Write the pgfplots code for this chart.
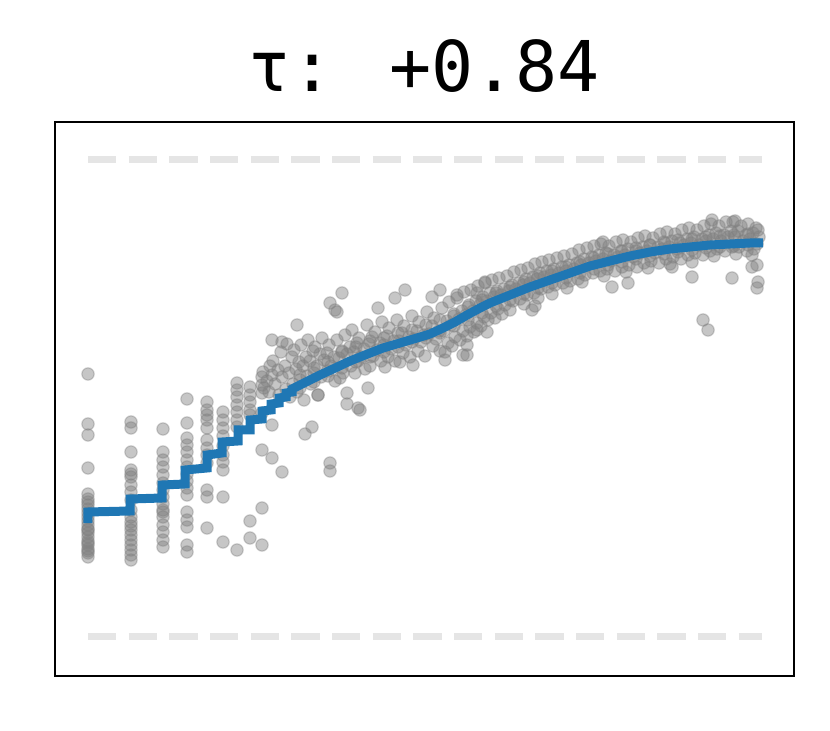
\documentclass[border=0pt]{standalone}
\usepackage{fontspec}
\usepackage{pgfplots}
\pgfplotsset{compat=1.18}
\newfontfamily\mono{DejaVu Sans Mono}
\definecolor{tabblue}{RGB}{31,119,180}
\definecolor{dashgray}{RGB}{229,229,229}
% coordinates in pixels (y grows downwards)
\begin{document}
\begin{tikzpicture}
\begin{axis}[
    scale only axis,
    width=221.7pt, height=166.2pt,
    xmin=55, xmax=794, ymin=122, ymax=676,
    y dir=reverse,
    ticks=none,
    clip marker paths=true,
    axis line style={line width=0.75pt},
    title={\mono τ: +0.84},
    title style={anchor=base, yshift=3pt, font=\fontsize{21}{25}\selectfont},
]
\coordinate (bl) at (axis cs:0,731);
\coordinate (tr) at (axis cs:830,0);
% reference lines
\addplot[dashgray, line width=2.1pt, dash pattern=on 8.5pt off 3.7pt] coordinates {(88,160) (762,160)};
\addplot[dashgray, line width=2.1pt, dash pattern=on 8.5pt off 3.7pt] coordinates {(88,636) (762,636)};
% scatter
\addplot[only marks, mark=*, mark size=1.85pt,
    mark options={draw=gray, fill=gray, line width=0.4pt, fill opacity=0.45, draw opacity=0.35}]
table[row sep=\\] {x y\\
88 374\\ 88 424\\ 88 435\\ 88 468\\ 88 494\\ 88 499\\ 88 505\\ 88 509\\ 88 513\\ 88 517\\ 88 521\\ 88 525\\ 88 529\\ 88 533\\ 88 537\\ 88 541\\ 88 545\\ 88 549\\ 88 553\\ 88 557\\ 88 551\\ 88 543\\ 88 530\\ 88 502\\
131 422\\ 131 428\\ 131 452\\ 131 470\\ 131 474\\ 131 477\\ 131 485\\ 131 492\\ 131 500\\ 131 510\\ 131 517\\ 131 522\\ 131 526\\ 131 530\\ 131 535\\ 131 540\\ 131 545\\ 131 550\\ 131 555\\ 131 560\\
163 429\\ 163 452\\ 163 460\\ 163 467\\ 163 475\\ 163 483\\ 163 490\\ 163 497\\ 163 504\\ 163 510\\ 163 517\\ 163 525\\ 163 532\\ 163 540\\ 163 547\\ 163 512\\
187 399\\ 187 423\\ 187 438\\ 187 445\\ 187 452\\ 187 460\\ 187 467\\ 187 474\\ 187 481\\ 187 488\\ 187 495\\ 187 512\\ 187 520\\ 187 527\\ 187 545\\ 187 552\\
207 402\\ 207 410\\ 207 415\\ 207 420\\ 207 428\\ 207 440\\ 207 448\\ 207 455\\ 207 463\\ 207 490\\ 207 497\\ 207 528\\
223 412\\ 223 420\\ 223 428\\ 223 436\\ 223 446\\ 223 455\\ 223 462\\ 223 470\\ 223 497\\ 223 542\\
237 383\\ 237 390\\ 237 397\\ 237 405\\ 237 412\\ 237 420\\ 237 427\\ 237 550\\
250 387\\ 250 395\\ 250 402\\ 250 410\\ 250 415\\ 250 521\\ 250 538\\
262 377\\ 262 385\\ 262 393\\ 262 413\\ 262 450\\ 262 508\\ 262 545\\
263 372\\ 267 381\\ 264 388\\
270 366\\ 272 375\\ 269 392\\
273 361\\ 278 370\\ 275 384\\ 279 395\\
281 352\\ 285 366\\ 282 377\\ 286 389\\
287 344\\ 292 357\\ 289 373\\ 293 384\\ 290 397\\
294 350\\ 299 362\\ 296 369\\ 300 380\\ 297 392\\
301 345\\ 306 357\\ 303 366\\ 307 376\\ 304 400\\
308 340\\ 313 351\\ 310 361\\ 314 373\\ 311 384\\
315 347\\ 320 354\\ 317 366\\ 321 377\\ 318 395\\
322 338\\ 327 353\\ 324 360\\ 328 371\\
329 345\\ 334 357\\ 331 366\\ 335 381\\
337 340\\ 342 351\\ 339 358\\ 343 373\\ 340 378\\
345 335\\ 350 347\\ 347 354\\ 351 366\\
352 330\\ 357 343\\ 354 352\\ 358 361\\ 355 373\\
359 338\\ 364 349\\ 361 357\\ 365 369\\
367 325\\ 372 337\\ 369 344\\ 373 356\\ 370 366\\
375 332\\ 380 343\\ 377 350\\ 381 361\\
382 322\\ 387 336\\ 384 345\\ 388 357\\ 385 367\\
389 328\\ 394 341\\ 391 349\\ 395 361\\
397 320\\ 402 333\\ 399 341\\ 403 353\\ 400 362\\
404 326\\ 409 337\\ 406 345\\ 410 357\\
412 316\\ 417 331\\ 414 339\\ 418 351\\
419 322\\ 424 335\\ 421 342\\ 425 356\\
427 312\\ 432 326\\ 429 334\\ 433 346\\
434 318\\ 439 331\\ 436 339\\ 440 351\\
442 308\\ 447 321\\ 444 331\\ 448 343\\ 445 352\\
449 302\\ 454 316\\ 451 325\\ 455 337\\ 452 346\\
457 298\\ 462 311\\ 459 319\\ 463 331\\ 460 340\\
464 292\\ 469 305\\ 466 315\\ 470 327\\ 467 336\\
471 290\\ 476 301\\ 473 311\\ 477 323\\ 474 332\\
478 286\\ 483 297\\ 480 305\\ 484 317\\ 481 326\\
485 282\\ 490 293\\ 487 301\\ 491 313\\ 488 320\\
492 280\\ 497 291\\ 494 297\\ 498 309\\ 495 318\\
499 278\\ 504 289\\ 501 295\\ 505 305\\ 502 314\\
507 276\\ 512 285\\ 509 291\\ 513 301\\ 510 310\\
514 272\\ 519 283\\ 516 289\\ 520 299\\
521 270\\ 526 279\\ 523 285\\ 527 295\\ 524 304\\
528 268\\ 533 277\\ 530 283\\ 534 293\\
535 264\\ 540 273\\ 537 279\\ 541 289\\ 538 298\\
542 262\\ 547 271\\ 544 277\\ 548 287\\
549 260\\ 554 269\\ 551 275\\ 555 285\\ 552 294\\
557 258\\ 562 267\\ 559 273\\ 563 283\\
564 256\\ 569 265\\ 566 271\\ 570 281\\ 567 288\\
572 254\\ 577 263\\ 574 269\\ 578 279\\
579 250\\ 584 259\\ 581 265\\ 585 275\\ 582 282\\
587 248\\ 592 257\\ 589 263\\ 593 273\\
594 246\\ 599 255\\ 596 261\\ 600 271\\
601 244\\ 606 253\\ 603 259\\ 607 269\\ 604 276\\
609 246\\ 614 255\\ 611 261\\ 615 271\\
616 242\\ 621 251\\ 618 257\\ 622 267\\
623 240\\ 628 249\\ 625 255\\ 629 265\\ 626 272\\
631 242\\ 636 251\\ 633 257\\ 637 267\\
638 238\\ 643 247\\ 640 253\\ 644 263\\
645 236\\ 650 245\\ 647 251\\ 651 261\\ 648 268\\
653 238\\ 658 247\\ 655 253\\ 659 263\\
660 234\\ 665 243\\ 662 249\\ 666 259\\
667 232\\ 672 241\\ 669 247\\ 673 257\\ 670 264\\
675 234\\ 680 243\\ 677 249\\ 681 259\\
682 230\\ 687 239\\ 684 245\\ 688 255\\
689 228\\ 694 237\\ 691 243\\ 695 253\\ 692 262\\
697 230\\ 702 239\\ 699 245\\ 703 255\\
704 226\\ 709 235\\ 706 241\\ 710 251\\
711 224\\ 716 233\\ 713 239\\ 717 249\\ 714 256\\
719 226\\ 724 235\\ 721 241\\ 725 251\\
726 222\\ 731 231\\ 728 237\\ 732 247\\
733 222\\ 738 231\\ 735 237\\ 739 247\\ 736 254\\
741 226\\ 746 235\\ 743 241\\ 747 251\\
748 224\\ 753 233\\ 750 239\\ 754 249\\
756 228\\ 759 237\\ 757 244\\
300 375\\ 300 388\\ 314 368\\ 314 382\\ 328 362\\ 328 376\\ 342 352\\ 342 368\\
356 347\\ 356 362\\ 370 341\\ 370 357\\ 384 338\\ 384 352\\ 398 333\\ 398 347\\
412 330\\ 412 342\\ 426 325\\ 426 338\\ 440 320\\ 440 333\\ 454 314\\ 454 326\\
468 307\\ 468 320\\ 482 300\\ 482 313\\ 496 293\\ 496 306\\ 510 287\\ 510 300\\
524 282\\ 524 294\\ 538 276\\ 538 288\\ 552 271\\ 552 283\\ 566 267\\ 566 278\\
580 262\\ 580 273\\ 594 258\\ 594 269\\ 608 254\\ 608 265\\ 622 251\\ 622 262\\
636 248\\ 636 259\\ 650 245\\ 650 256\\ 664 242\\ 664 254\\ 678 240\\ 678 252\\
692 239\\ 692 250\\ 706 237\\ 706 248\\ 720 236\\ 720 247\\ 734 235\\ 734 246\\
748 234\\ 748 245\\
342 293\\ 335 310\\ 378 308\\ 395 298\\ 405 290\\ 440 290\\ 432 297\\ 457 295\\ 477 293\\ 485 283\\
413 365\\ 368 388\\ 347 393\\ 347 404\\ 360 410\\ 445 360\\ 463 355\\ 532 310\\ 535 306\\
467 345\\ 467 355\\ 487 332\\ 477 330\\ 712 220\\ 735 221\\ 758 230\\ 752 255\\ 752 267\\ 757 265\\
758 282\\ 757 288\\ 732 278\\ 692 277\\ 628 283\\ 612 287\\ 703 320\\ 708 330\\ 672 267\\ 603 242\\
272 340\\ 282 342\\ 297 325\\ 330 303\\ 337 312\\ 318 395\\ 358 408\\
272 425\\ 312 427\\ 305 434\\ 272 458\\ 282 472\\ 330 463\\ 330 471\\
};
% fitted curve
\addplot[tabblue, line width=2.7pt] coordinates {
(88,523) (88,512) (130,511) (130,499) (162,498) (162,485) (185,484) (185,470)
(207,468) (207,455) (222,453) (222,442) (238,441) (238,430) (250,430) (250,420)
(262,419) (262,411) (271,410) (271,404) (279,403) (279,398) (286,397) (286,393)
(292,392) (292,389) (298,386) (310,380) (320,375) (333,369) (350,361) (365,355)
(383,348) (400,343) (417,338) (430,334) (443,328) (455,322) (467,315) (480,308)
(490,303) (500,299) (515,293) (530,287) (550,280) (570,273) (590,266) (610,261)
(630,256) (650,252) (670,249) (690,247) (710,245) (730,244) (750,243) (763,243)
};
\end{axis}
% page extent
\path (bl) rectangle (tr);
\end{tikzpicture}
\end{document}
